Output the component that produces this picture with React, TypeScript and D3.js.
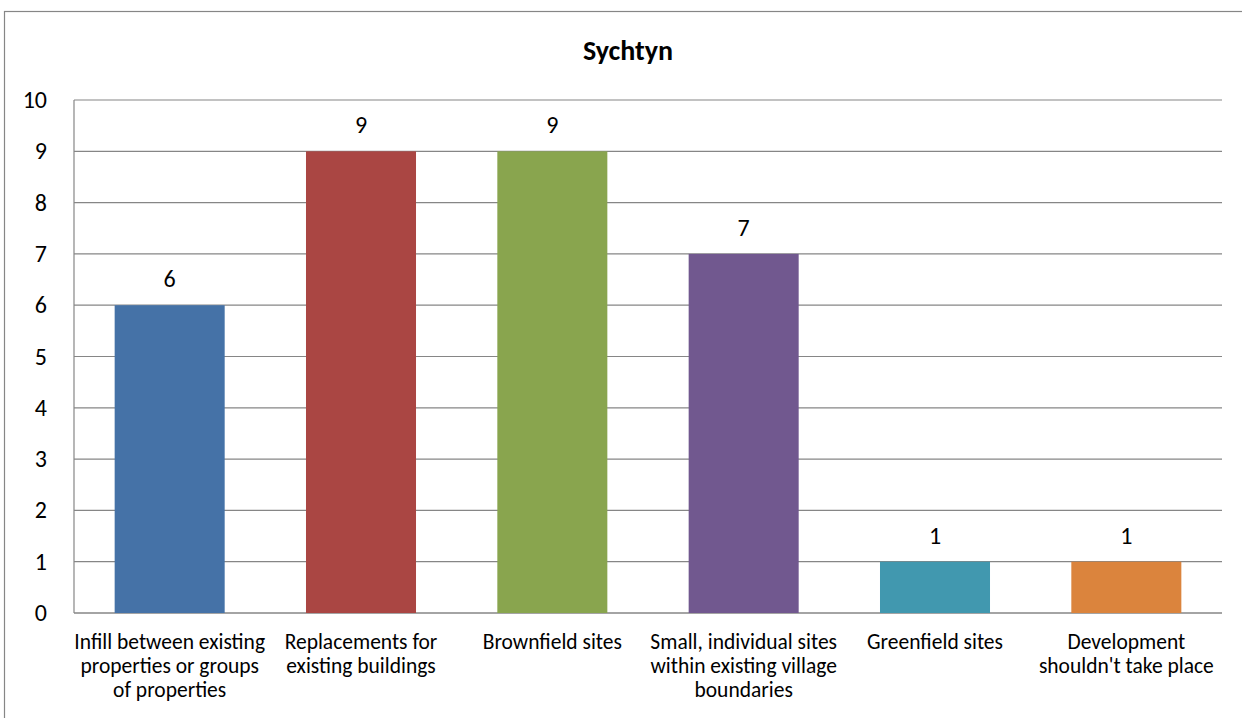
import React from "react";
import * as d3 from "d3";

const categories: string[][] = [
  ["Infill between existing", "properties or groups", "of properties"],
  ["Replacements for", "existing buildings"],
  ["Brownfield sites"],
  ["Small, individual sites", "within existing village", "boundaries"],
  ["Greenfield sites"],
  ["Development", "shouldn't take place"],
];
const values: number[] = [6, 9, 9, 7, 1, 1];
const colors: string[] = ["#4572A7", "#AA4643", "#89A54E", "#71588F", "#4198AF", "#DB843D"];
const yTicks: number[] = [0, 1, 2, 3, 4, 5, 6, 7, 8, 9, 10];
const title = "Sychtyn";

const W = 1242;
const H = 718;
const plot = { left: 74, right: 1222, top: 100, bottom: 613 };
const font = "Carlito, Calibri, 'Open Sans', sans-serif";

export default function App() {
  const x = d3
    .scaleBand<number>()
    .domain(values.map((_, i) => i))
    .range([plot.left, plot.right])
    .paddingInner(0.425)
    .paddingOuter(0.2125);
  const y = d3.scaleLinear().domain([0, 10]).range([plot.bottom, plot.top]);
  const step = (plot.right - plot.left) / values.length;

  return (
    <svg width={W} height={H} style={{ position: "absolute", left: 0, top: 0, background: "#fff" }}>
      <rect x={4.5} y={11.5} width={1300} height={800} fill="#fff" stroke="#868686" strokeWidth={1.2} />
      <text x={628} y={60} textAnchor="middle" fontFamily={font} fontWeight="bold" fontSize={28} fill="#000">
        {title}
      </text>
      {yTicks.map((t) => (
        <g key={t}>
          <line x1={plot.left} x2={plot.right} y1={y(t)} y2={y(t)} stroke="#868686" strokeWidth={t === 0 ? 1.5 : 1.2} />
          <text x={47} y={y(t) + 8} textAnchor="end" fontFamily={font} fontSize={24} fill="#000">
            {t}
          </text>
        </g>
      ))}
      <line x1={plot.left} x2={plot.left} y1={plot.top} y2={plot.bottom} stroke="#868686" strokeWidth={1.2} />
      {values.map((v, i) => (
        <g key={i}>
          <rect x={x(i)} y={y(v)} width={x.bandwidth()} height={y(0) - y(v)} fill={colors[i]} />
          <text
            x={(x(i) as number) + x.bandwidth() / 2}
            y={y(v) - 18}
            textAnchor="middle"
            fontFamily={font}
            fontSize={24}
            fill="#000"
          >
            {v}
          </text>
          {categories[i].map((line, j) => (
            <text
              key={j}
              x={plot.left + step * (i + 0.5)}
              y={649 + j * 24}
              textAnchor="middle"
              fontFamily={font}
              fontSize={21.5}
              fill="#000"
            >
              {line}
            </text>
          ))}
        </g>
      ))}
    </svg>
  );
}
